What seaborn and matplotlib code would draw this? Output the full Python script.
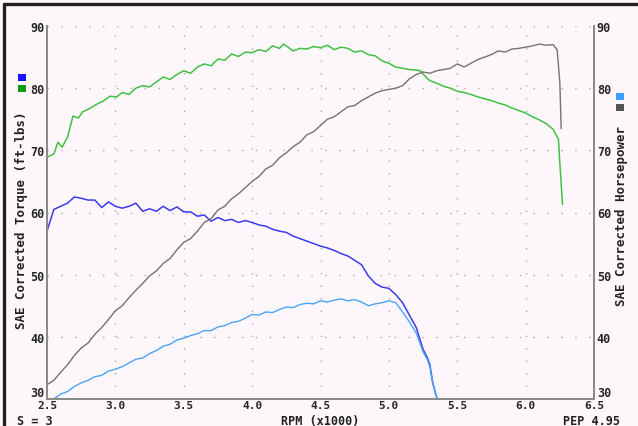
import matplotlib
matplotlib.use("Agg")
import matplotlib.pyplot as plt
import seaborn as sns
from matplotlib.lines import Line2D
from matplotlib.patches import Rectangle

# Run 1: torque (green, left axis) and horsepower (gray, right axis)
tq1_rpm = [2.50, 2.55, 2.58, 2.61, 2.65, 2.69, 2.73, 2.76, 2.81, 2.87, 2.91, 2.96, 3.01,
           3.05, 3.10, 3.15, 3.20, 3.25, 3.30, 3.35, 3.40, 3.45, 3.50, 3.55, 3.60, 3.65,
           3.70, 3.75, 3.80, 3.85, 3.90, 3.95, 4.00, 4.05, 4.10, 4.15, 4.20, 4.23, 4.30,
           4.35, 4.40, 4.45, 4.50, 4.55, 4.60, 4.65, 4.70, 4.75, 4.80, 4.85, 4.90, 4.95,
           5.00, 5.05, 5.10, 5.15, 5.20, 5.23, 5.27, 5.30, 5.35, 5.40, 5.45, 5.50, 5.55,
           5.60, 5.65, 5.70, 5.75, 5.80, 5.85, 5.90, 5.95, 6.00, 6.05, 6.10, 6.15, 6.20,
           6.24, 6.25, 6.27]
tq1 = [68.9, 69.4, 71.3, 70.5, 72.1, 75.5, 75.2, 76.2, 76.7, 77.5, 77.9, 78.7, 78.6,
       79.3, 79.0, 80.0, 80.4, 80.2, 81.0, 81.8, 81.4, 82.2, 82.8, 82.4, 83.4, 83.9,
       83.6, 84.7, 84.5, 85.5, 85.1, 85.8, 85.7, 86.2, 85.9, 86.8, 86.4, 87.1, 86.0,
       86.4, 86.3, 86.7, 86.5, 86.9, 86.2, 86.6, 86.4, 85.8, 86.0, 85.4, 85.2, 84.4,
       84.0, 83.4, 83.2, 83.0, 82.9, 82.8, 81.8, 81.2, 80.8, 80.3, 80.0, 79.5, 79.3,
       79.0, 78.6, 78.3, 78.0, 77.6, 77.3, 76.8, 76.4, 76.0, 75.4, 74.9, 74.3, 73.4,
       71.8, 68.0, 61.3]

hp1_rpm = [2.50, 2.55, 2.60, 2.65, 2.70, 2.75, 2.80, 2.85, 2.90, 2.95, 3.00, 3.05, 3.10,
           3.15, 3.20, 3.25, 3.30, 3.35, 3.40, 3.45, 3.50, 3.55, 3.60, 3.65, 3.70, 3.75,
           3.80, 3.85, 3.90, 3.95, 4.00, 4.05, 4.10, 4.15, 4.20, 4.25, 4.30, 4.35, 4.40,
           4.45, 4.50, 4.55, 4.60, 4.65, 4.70, 4.75, 4.80, 4.85, 4.90, 4.95, 5.00, 5.05,
           5.10, 5.15, 5.20, 5.25, 5.30, 5.35, 5.40, 5.45, 5.50, 5.55, 5.60, 5.65, 5.70,
           5.75, 5.80, 5.85, 5.90, 5.95, 6.00, 6.05, 6.10, 6.15, 6.20, 6.23, 6.25, 6.26]
hp1 = [32.3, 33.0, 34.3, 35.5, 37.0, 38.2, 39.0, 40.4, 41.5, 42.8, 44.2, 45.0, 46.3,
       47.5, 48.6, 49.8, 50.6, 51.8, 52.6, 54.0, 55.2, 55.8, 57.0, 58.4, 59.0, 60.4,
       61.0, 62.2, 63.0, 64.0, 65.0, 65.8, 67.0, 67.6, 68.8, 69.6, 70.6, 71.3, 72.5,
       73.0, 74.0, 75.0, 75.4, 76.2, 77.0, 77.2, 78.0, 78.6, 79.2, 79.6, 79.8, 80.0,
       80.4, 81.5, 82.2, 82.6, 82.4, 82.8, 83.0, 83.2, 83.9, 83.4, 84.0, 84.6, 85.0,
       85.4, 86.0, 85.8, 86.3, 86.4, 86.6, 86.8, 87.1, 86.9, 87.0, 86.2, 81.0, 73.5]

# Run 2: torque (blue, left axis) and horsepower (light blue, right axis)
run2_rpm = [2.50, 2.55, 2.60, 2.65, 2.70, 2.75, 2.80, 2.85, 2.90, 2.95, 3.00, 3.05, 3.10,
            3.15, 3.20, 3.25, 3.30, 3.35, 3.40, 3.45, 3.50, 3.55, 3.60, 3.65, 3.70, 3.75,
            3.80, 3.85, 3.90, 3.95, 4.00, 4.05, 4.10, 4.15, 4.20, 4.25, 4.30, 4.35, 4.40,
            4.45, 4.50, 4.55, 4.60, 4.65, 4.70, 4.75, 4.80, 4.85, 4.90, 4.95, 5.00, 5.05,
            5.10, 5.15, 5.20, 5.25, 5.28, 5.30, 5.32, 5.34, 5.36]
tq2 = [57.0, 60.5, 61.0, 61.5, 62.5, 62.3, 62.0, 62.0, 60.8, 61.7, 61.0, 60.7, 61.0,
       61.5, 60.2, 60.6, 60.2, 61.0, 60.3, 60.9, 60.1, 60.1, 59.4, 59.6, 58.6, 59.2,
       58.7, 58.9, 58.4, 58.7, 58.4, 58.0, 57.8, 57.3, 57.0, 56.8, 56.2, 55.8, 55.4,
       55.0, 54.6, 54.3, 53.9, 53.4, 53.0, 52.3, 51.6, 49.8, 48.6, 48.0, 47.8, 46.8,
       45.5, 43.5, 41.5, 38.0, 36.7, 35.5, 32.7, 31.0, 29.5]
hp2 = [29.5, 30.0, 30.8, 31.2, 32.0, 32.6, 33.0, 33.6, 33.8, 34.5, 34.8, 35.2, 35.8,
       36.4, 36.6, 37.3, 37.8, 38.5, 38.8, 39.5, 39.8, 40.2, 40.5, 41.0, 41.0, 41.6,
       41.8, 42.3, 42.5, 43.0, 43.6, 43.5, 44.0, 43.9, 44.4, 44.8, 44.7, 45.2, 45.4,
       45.3, 45.8, 45.6, 45.9, 46.1, 45.8, 46.0, 45.6, 45.0, 45.3, 45.5, 45.8, 45.5,
       44.0, 42.4, 40.6, 37.6, 36.4, 35.2, 32.6, 31.0, 29.5]

x_ticks = [2.5, 3.0, 3.5, 4.0, 4.5, 5.0, 5.5, 6.0, 6.5]
x_labels = ["2.5", "3.0", "3.5", "4.0", "4.5", "5.0", "5.5", "6.0", "6.5"]
y_ticks = [30, 40, 50, 60, 70, 80, 90]

bg = "#fdf7fc"
sns.set_style("white")
plt.rcParams["font.family"] = ["DejaVu Sans Mono", "DejaVu Sans"]
plt.rcParams["font.weight"] = "bold"

W, H = 638, 427
fig = plt.figure(figsize=(6.38, 4.27), dpi=100, facecolor=bg)
ax = fig.add_axes([47 / W, 27 / H, 547 / W, 373 / H])
ax.set_facecolor(bg)
ax2 = ax.twinx()

sns.lineplot(x=hp1_rpm, y=hp1, ax=ax2, color="#737373", lw=1.0)
sns.lineplot(x=run2_rpm, y=hp2, ax=ax2, color="#4da2f2", lw=1.0)
sns.lineplot(x=tq1_rpm, y=tq1, ax=ax, color="#42c042", lw=1.1)
sns.lineplot(x=run2_rpm, y=tq2, ax=ax, color="#3b3bea", lw=1.1)

for a in (ax, ax2):
    a.set_xlim(2.5, 6.5)
    a.set_ylim(30, 90)
    a.set_yticks(y_ticks)
    a.set_ylabel("")
    a.tick_params(length=0, labelsize=8.5, pad=2)
    a.spines["top"].set_visible(False)
    for s in ("left", "right", "bottom"):
        a.spines[s].set_color("#8a8a8a")
        a.spines[s].set_linewidth(1.4)

ax.set_xticks(x_ticks)
ax.set_xticklabels(x_labels, fontweight="bold")
ax.set_yticklabels([str(v) for v in y_ticks], fontweight="bold")
ax2.set_yticklabels([str(v) for v in y_ticks], fontweight="bold")
ax.tick_params(axis="x", pad=1, labelsize=8)

# the bottom "30" labels sit just above the axis line, clear of the rpm labels
for lab in (ax.get_yticklabels()[0], ax2.get_yticklabels()[0]):
    lab.set_verticalalignment("bottom")

# dotted grid
ax.set_axisbelow(True)
for xv in x_ticks[1:-1]:
    ax.axvline(xv, color="#a8a8a8", lw=1.0, linestyle=(0, (1, 8)), zorder=0)
for yv in y_ticks[1:]:
    ax.axhline(yv, color="#a8a8a8", lw=1.0, linestyle=(0, (1, 9)), zorder=0)

# axis titles and notes
fig.text(22 / W, 1 - 220 / H, "SAE Corrected Torque (ft-lbs)", rotation=90,
         ha="center", va="center", fontsize=9, fontweight="bold", color="#222222")
fig.text(621 / W, 1 - 216 / H, "SAE Corrected Horsepower", rotation=90,
         ha="center", va="center", fontsize=9, fontweight="bold", color="#222222")
fig.text(320 / W, 1 - 421.5 / H, "RPM (x1000)", ha="center", va="center",
         fontsize=8.5, fontweight="bold", color="#222222")
fig.text(17 / W, 1 - 421.5 / H, "S = 3", ha="left", va="center",
         fontsize=8.5, fontweight="bold", color="#222222")
fig.text(620 / W, 1 - 421.5 / H, "PEP 4.95", ha="right", va="center",
         fontsize=8.5, fontweight="bold", color="#222222")

# legend squares
for (x0, y0, c) in [(18, 75, "#1515ff"), (18, 86, "#119a11"),
                    (616, 94, "#3d9cff"), (616, 105, "#555555")]:
    fig.add_artist(Rectangle((x0 / W, 1 - (y0 + 7) / H), 8 / W, 7 / H,
                             transform=fig.transFigure, color=c, lw=0))

# outer frame (top and left edges)
fig.add_artist(Line2D([4 / W, 4 / W], [0, 1 - 5 / H], transform=fig.transFigure,
                      color="#222222", lw=2.4))
fig.add_artist(Line2D([4 / W, 1], [1 - 5 / H, 1 - 5 / H], transform=fig.transFigure,
                      color="#222222", lw=2.4))

fig.savefig("out.png", dpi=100, facecolor=bg)
plt.close(fig)
